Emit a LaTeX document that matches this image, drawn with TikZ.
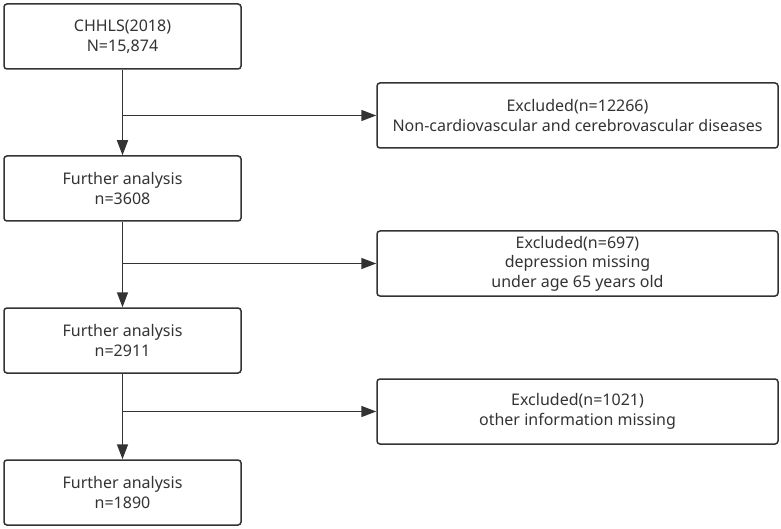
\documentclass[tikz,border=0pt]{standalone}
\usepackage{fontspec}
\setmainfont{Noto Sans}
\usetikzlibrary{arrows.meta}
\definecolor{ln}{HTML}{333333}
\begin{document}
\begin{tikzpicture}[x=1pt,y=-1pt,
  box/.style={draw=ln,line width=1.5pt,rounded corners=3pt,align=center,inner sep=0pt,font=\fontsize{16}{19.5}\selectfont,text=ln},
  conn/.style={draw=ln,line width=1.6pt},
  arr/.style={conn,-{Triangle[length=15pt,width=11pt]}}]
\useasboundingbox (0,0) rectangle (781,529);
\node[box,minimum width=237pt,minimum height=65pt] (a) at (122.5,36.5) {CHHLS(2018)\\N=15,874};
\node[box,minimum width=237pt,minimum height=65pt] (b) at (122.5,188.5) {Further analysis\\n=3608};
\node[box,minimum width=237pt,minimum height=65pt] (c) at (122.5,340.5) {Further analysis\\n=2911};
\node[box,minimum width=237pt,minimum height=65pt] (d) at (122.5,492.5) {Further analysis\\n=1890};
\node[box,minimum width=401pt,minimum height=65pt] (e1) at (577.5,115.5) {Excluded(n=12266)\\Non-cardiovascular and cerebrovascular diseases};
\node[box,minimum width=401pt,minimum height=65pt] (e2) at (577.5,263.5) {Excluded(n=697)\\depression missing\\under age 65 years old};
\node[box,minimum width=401pt,minimum height=65pt] (e3) at (577.5,411.5) {Excluded(n=1021)\\other information missing};
\draw[arr] (a) -- (b);
\draw[arr] (b) -- (c);
\draw[arr] (c) -- (d);
\draw[arr] (a.south |- e1.west) -- (e1.west);
\draw[arr] (b.south |- e2.west) -- (e2.west);
\draw[arr] (c.south |- e3.west) -- (e3.west);
\end{tikzpicture}
\end{document}
